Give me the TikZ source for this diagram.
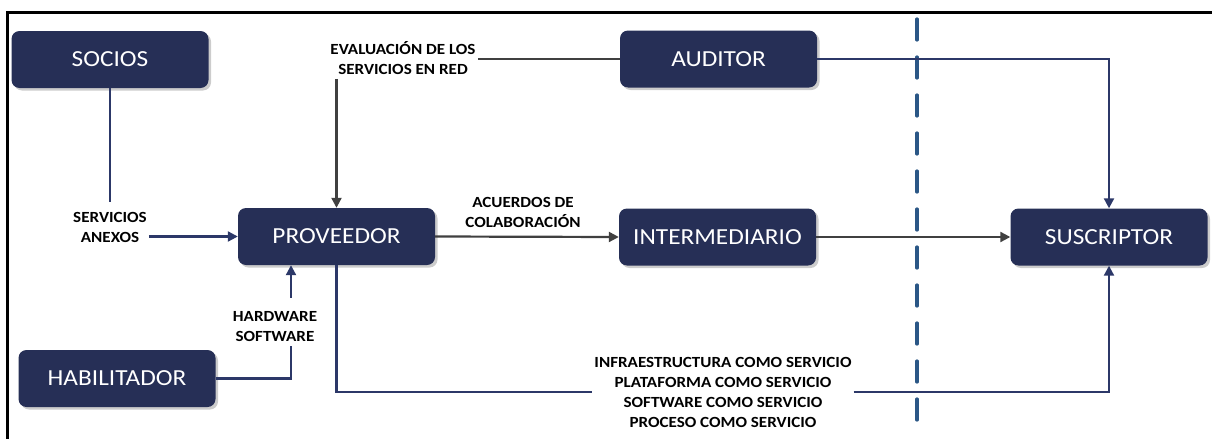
\documentclass[tikz,border=0pt]{standalone}
\usepackage{fontspec}
\setmainfont{Carlito}[FakeStretch=1.1]
\usetikzlibrary{arrows.meta,shadows}
\definecolor{boxfill}{HTML}{262F56}
\definecolor{navyline}{HTML}{2C3868}
\definecolor{grayline}{HTML}{404040}
\definecolor{dashcol}{HTML}{2B5786}
\tikzset{
  entity/.style={fill=boxfill, rounded corners=8pt, minimum width=197pt, minimum height=57pt,
    inner sep=0pt, text=white, font=\fontsize{23}{27}\selectfont,
    drop shadow={shadow xshift=2.5pt, shadow yshift=-2.5pt, fill=black, opacity=0.2}},
  lbl/.style={font=\bfseries\fontsize{15.5}{20}\selectfont, align=center, inner xsep=2pt, inner ysep=4pt, text=black},
  gline/.style={draw=grayline, line width=2.2pt},
  nline/.style={draw=navyline, line width=2.2pt},
  tip/.style={-{Triangle[length=10pt,width=10pt]}},
  divider/.style={draw=dashcol, line width=3.2pt, dash pattern=on 21pt off 17pt, line cap=round},
  frameline/.style={draw=black, line width=3pt}
}
\begin{document}
\begin{tikzpicture}[x=1pt,y=-1pt]
\useasboundingbox (0,0) rectangle (1212,439);
% frame
\draw[frameline] (1212,12) -- (7,12) -- (7,439);
% divider
\draw[divider] (917,19) -- (917,424);

% entities
\node[entity] (socios) at (110,59.5) {SOCIOS};
\node[entity] (auditor) at (718.5,59) {AUDITOR};
\node[entity] (prov) at (336.5,236.5) {PROVEEDOR};
\node[entity] (inter) at (717.5,237) {INTERMEDIARIO};
\node[entity] (susc) at (1109,237) {SUSCRIPTOR};
\node[entity] (habil) at (117,378.5) {HABILITADOR};

% labels
\node[lbl, inner ysep=10pt] (lsa) at (110,227) {SERVICIOS\\ANEXOS};
\node[lbl] (lhs) at (275,326.5) {HARDWARE\\SOFTWARE};
\node[lbl] (lev) at (403,58) {EVALUACIÓN DE LOS\\SERVICIOS EN RED};
\node[lbl] (lac) at (523,212) {ACUERDOS DE\\COLABORACIÓN};
\node[lbl] (lxs) at (723,392) {INFRAESTRUCTURA COMO SERVICIO\\PLATAFORMA COMO SERVICIO\\SOFTWARE COMO SERVICIO\\PROCESO COMO SERVICIO};

\coordinate (hsTop) at ([xshift=16pt,yshift=9.5pt]lhs.north);
\coordinate (hsBot) at ([xshift=16pt]lhs.south);

% connectors
\draw[nline] (socios.south) -- (socios.south |- lsa.north);
\draw[nline,tip] (lsa.east |- prov.west) -- (prov.west);
\draw[nline] (habil.east) -| (hsBot);
\draw[nline,tip] (hsTop) -- (hsTop |- prov.south);
\draw[gline] (auditor.west) -- (lev.east |- auditor.west);
\draw[gline,tip] (lev.south -| prov.north) -- (prov.north);
\draw[gline,tip] (prov.east) -- (inter.west);
\draw[gline,tip] (inter.east) -- (susc.west);
\draw[nline,tip] (auditor.east) -| (susc.north);
\draw[nline] (prov.south) |- (lxs.west);
\draw[nline,tip] (lxs.east) -| (susc.south);
\end{tikzpicture}
\end{document}
